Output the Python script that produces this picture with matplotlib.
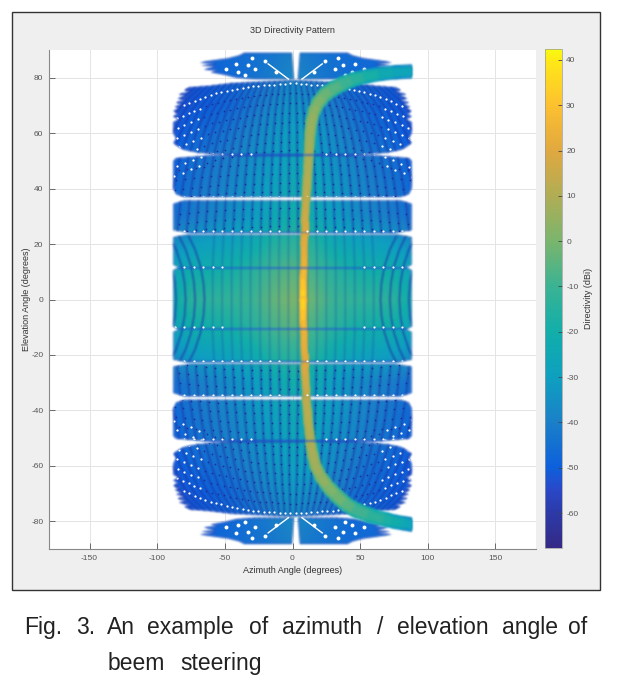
import numpy as np
import matplotlib
matplotlib.use('Agg')
import matplotlib.pyplot as plt
from matplotlib.collections import LineCollection
from matplotlib.colors import LinearSegmentedColormap, Normalize
from matplotlib.patches import PathPatch, Rectangle
from matplotlib.path import Path

plt.rcParams['font.family'] = ['Liberation Sans', 'DejaVu Sans']
plt.rcParams['axes.unicode_minus'] = False

# base level of the pattern (dBi)
table_db = [
    [-47, -47, -47, -46, -45, -43, -41, -43, -45, -46, -47, -47, -47],
    [-51, -51, -49, -47, -44, -41, -37, -41, -44, -47, -47, -49, -49],
    [-53, -51, -49, -46, -42, -37, -32, -36, -40, -44, -47, -50, -52],
    [-52, -48, -45, -42, -38, -33, -29, -30, -36, -41, -45, -48, -52],
    [-50, -45, -42, -39, -35, -31, -26, -28, -34, -38, -42, -45, -50],
    [-48, -43, -40, -37, -33, -28, -24, -26, -31, -36, -40, -43, -48],
    [-45, -41, -38, -35, -31, -25, -20, -23, -30, -35, -38, -41, -45],
    [-36, -31, -29, -27, -23, -16, -13, -15, -23, -27, -29, -31, -36],
    [-28, -21, -20, -18, -14, -8, -5, -8, -14, -18, -20, -21, -28],
    [-22, -14, -13, -12, -10, -4, 0, -3, -10, -12, -13, -14, -22],
    [-28, -21, -20, -18, -14, -8, -5, -8, -14, -18, -20, -21, -28],
    [-36, -31, -29, -27, -23, -16, -13, -15, -23, -27, -29, -31, -36],
    [-45, -41, -38, -35, -31, -25, -20, -23, -30, -35, -38, -41, -45],
    [-48, -43, -40, -37, -33, -28, -24, -26, -31, -36, -40, -43, -48],
    [-50, -45, -42, -39, -35, -31, -26, -28, -34, -38, -42, -45, -50],
    [-52, -48, -45, -42, -38, -33, -29, -30, -36, -41, -45, -48, -52],
    [-53, -51, -49, -46, -42, -37, -32, -36, -40, -44, -47, -50, -52],
    [-51, -51, -49, -47, -44, -41, -37, -41, -44, -47, -47, -49, -49],
    [-47, -47, -47, -46, -45, -43, -41, -43, -45, -46, -47, -47, -47],
]

# main beam ridge, upper and lower branch
ridge_el_up = [0, 4, 8, 12, 16, 20, 24, 28, 32, 36, 40, 44, 48, 52, 56, 60, 64, 68, 71, 74, 76, 78, 79.5, 80.5, 81.5, 82, 82.3]
ridge_az_up = [8, 8, 8, 8.5, 8.5, 8.5, 9, 9, 9.5, 10, 10.5, 11, 11.5, 12, 12.5, 13, 14, 16, 19, 24, 30, 38, 46, 55, 66, 77, 89]
ridge_db_up = [36, 34, 30, 25, 23, 22, 20, 18, 16, 14, 13, 11, 10, 9, 8, 7, 6, 4, 2, -1, -4, -8, -12, -16, -21, -25, -28]
ridge_w_up = [6, 6, 6, 6, 6, 6, 7, 7, 7, 7, 8, 8, 8, 9, 9, 10, 10, 11, 12, 13, 13, 13, 12, 12, 12, 12, 12]
ridge_el_dn = [0, -4, -8, -12, -16, -20, -24, -28, -32, -36, -40, -44, -48, -52, -56, -60, -64, -68, -71, -74, -76, -78, -79.5, -80.2, -80.7, -81, -81.3]
ridge_az_dn = [8, 8, 8, 8.5, 8.5, 9, 9, 9.5, 10, 10, 11, 11.5, 12.5, 13.5, 15, 17, 21, 27, 33, 40, 47, 58, 70, 76, 82, 86, 89]
ridge_db_dn = [36, 34, 30, 25, 23, 22, 20, 18, 16, 14, 13, 12, 11, 10, 9, 8, 6, 3, 0, -3, -7, -11, -16, -19, -22, -25, -28]
ridge_w_dn = [6, 6, 6, 6, 6, 6, 7, 7, 7, 7, 8, 8, 8, 9, 10, 10, 11, 12, 13, 13, 13, 13, 12, 12, 12, 12, 12]

# outline of the blocks, left edge, right side is the mirror
lobe_el = [89, 88, 87, 86.2, 85.5, 85, 84.5, 84, 83, 82.5, 82, 81, 80, 79.5]
lobe_az = [-38, -42, -50, -62, -71, -60, -70, -60, -68, -58, -63, -52, -44, -30]
lobe_slit_el = [79.5, 89]
lobe_slit_az = [-1.5, -3]
blockb_el = [79, 78.5, 78, 77, 76.5, 75.5, 75, 74, 73.5, 72.5, 72, 71, 70.5, 69.5, 69, 68, 67, 66, 65, 64, 62, 60, 58, 56.5, 55, 54, 53, 52]
blockb_az = [-4, -25, -45, -62, -76, -80, -76, -84, -79, -85, -80, -86, -82, -87, -84, -88, -85, -88, -84, -88, -88, -88, -86, -88, -84, -80, -70, -45]
blockc_el = [52, 51, 50, 48, 46, 44, 42, 40, 38, 37]
blockc_az = [-60, -86, -88, -88, -88, -88, -88, -88, -86, -80]
blockd_el = [35.7, 34.5, 33, 31, 29, 27, 25, 24]
blockd_az = [-80, -88, -88, -88, -88, -88, -88, -75]
blocke_el = [23.4, 22.5, 15, 12.5, 11.6, 10.6, 6, 0, -6, -9.8, -10.8, -11.7, -14.2, -21.7, -22.6]
blocke_az = [-78, -88, -88, -88, -84, -88, -88, -88, -88, -88, -84, -88, -88, -88, -78]

# dark bands across the pattern
band_el = [52, 36.2, 24, 11.3, -10.5, -22.7, -35, -51]
# how far in from the centre the white specks on each band start
band_white_from = [25, 6, 6, 48, 48, 6, 6, 25]

# nulls of the fan of lobes, azimuth at the horizon
null_az = [-143, -136, -129, -122, -115, -108, -101, -94, -87, -80, -73, -66, -59, -52, -45, -38, -31, -24, -17, -10, -3,
           4, 11, 18, 25, 32, 39, 46, 53, 60, 67, 74, 81, 88, 95, 102, 109, 116, 123, 130, 137, 144]
fan_el = [0, 12, 24, 36, 44, 52, 56, 60, 64, 68, 72, 76, 79]
fan_shrink = [1, 1, 0.98, 0.95, 0.92, 0.88, 0.85, 0.82, 0.78, 0.74, 0.68, 0.6, 0.54]
# curved nulls around the two side points at the horizon
edge_az = [-86, -79, -72, -65, 65, 72, 79, 86]
edge_el = [0, 6, 12, 18, 23]
edge_off = [0, 0.8, 3, 7, 12]

# rings of small holes
ring_el = [78, 74.5, 71, 67.5, 64, 60.5, 57, 54, 49, 45.5, 42, 39, 33, 29.5, 26.5]
dome_az = [0, 30, 60, 90]
dome_drop = [0, 1, 4, 10]
hole_az_up = [-32, -44, -22, -51, -35, -42, -29.5, -37, -14, 32, 44, 22, 51, 35, 42, 29.5, 37, 14]
hole_el_up = [87, 85, 86, 83, 84.5, 82, 83, 81, 82, 87, 85, 86, 83, 84.5, 82, 83, 81, 82]

# colours
cbar_db = [-67.7, -60, -55, -50, -40, -30, -20, -10, 0, 10, 20, 30, 40, 42.4]
cbar_col = ['#352a87', '#2c3aa8', '#2a48c8', '#0d60dc', '#1a80c8', '#0ea0c0', '#12aeaa', '#3ab394',
            '#7ab56d', '#b0ad55', '#e0a840', '#fcc030', '#ffe817', '#f8fa10']
az_ticks = [-150, -100, -50, 0, 50, 100, 150]
el_ticks = [-80, -60, -40, -20, 0, 20, 40, 60, 80]
cb_ticks = [-60, -50, -40, -30, -20, -10, 0, 10, 20, 30, 40]


def blur(img, dpi):
    # small gaussian so the pattern looks as soft as the scan, rgb weighted by alpha
    pad = 3
    k = np.array([0.06, 0.24, 0.4, 0.24, 0.06])
    src = np.pad(img, ((pad, pad), (pad, pad), (0, 0)))
    src[..., :3] *= src[..., 3:]
    for axis in (0, 1):
        src = np.apply_along_axis(lambda m: np.convolve(m, k, mode='same'), axis, src)
    a = src[..., 3:]
    src[..., :3] = np.divide(src[..., :3], a, out=np.zeros_like(src[..., :3]), where=a > 1e-4)
    return np.clip(src, 0, 1), -pad, -pad


fig = plt.figure(figsize=(6.19, 6.81), dpi=100)
W, H = 619.0, 681.0

panel = Rectangle((12 / W, 1 - 590 / H), 588 / W, 578 / H, transform=fig.transFigure,
                  facecolor='#efefef', edgecolor='#333333', linewidth=1.0, zorder=-1)
fig.add_artist(panel)

ax = fig.add_axes([49 / W, 1 - 549 / H, 487 / W, 499 / H])
ax.set_xlim(-180, 180)
ax.set_ylim(-90, 90)
ax.set_facecolor('white')
ax.grid(True, color='#e4e4e4', linewidth=0.7)
ax.set_axisbelow(True)
ax.set_xticks(az_ticks)
ax.set_yticks(el_ticks)
ax.tick_params(direction='in', length=4, width=0.6, color='#555555', labelcolor='#555555', labelsize=6, pad=4)
for side in ['top', 'right']:
    ax.spines[side].set_visible(False)
for side in ['left', 'bottom']:
    ax.spines[side].set_color('#888888')
ax.set_title('3D Directivity Pattern', fontsize=6.5, color='#333333', y=1.0, pad=12)
ax.set_xlabel('Azimuth Angle (degrees)', fontsize=6.5, color='#333333', labelpad=3)
ax.set_ylabel('Elevation Angle (degrees)', fontsize=6.5, color='#333333', labelpad=0)

cmap = LinearSegmentedColormap.from_list(
    'scan', [((d - cbar_db[0]) / (cbar_db[-1] - cbar_db[0]), c) for d, c in zip(cbar_db, cbar_col)], N=256)
norm = Normalize(cbar_db[0], cbar_db[-1])

# clip path made of all the blocks
polys = []


def add_block(el, az, flip=False):
    el = np.array(el, dtype=float)
    az = np.array(az, dtype=float)
    if flip:
        el = -el + 0.8
    left = np.column_stack([az, el])
    right = np.column_stack([-az, el])[::-1]
    poly = np.vstack([left, right, left[:1]])
    if flip:
        poly = poly[::-1]  # keep the same winding or the overlaps cancel
    polys.append(poly)


for e, a in [(blockb_el, blockb_az), (blockc_el, blockc_az), (blockd_el, blockd_az)]:
    add_block(e, a)
    add_block(e, a, flip=True)
add_block(blocke_el, blocke_az)

# the two lobes on top and bottom have a slit at the middle
for flip in (False, True):
    for sign in (1, -1):
        el = np.array(lobe_el + lobe_slit_el, dtype=float)
        az = np.array(lobe_az + lobe_slit_az, dtype=float) * sign + 2.5
        if flip:
            el = -el + 0.8
        poly = np.column_stack([az, el])
        polys.append(np.vstack([poly, poly[:1]]))

shape = Path.make_compound_path(*[Path(p, closed=False) for p in polys])
mask = PathPatch(shape, transform=ax.transData, facecolor='none', edgecolor='none')

im = ax.imshow(np.array(table_db, dtype=float), cmap=cmap, norm=norm, interpolation='bilinear', aspect='auto',
               extent=[-97.5, 97.5, -95, 95], zorder=2)
im.set_clip_path(mask)
im.set_agg_filter(blur)
ax.set_xlim(-180, 180)
ax.set_ylim(-90, 90)

# darker rim around the blocks
rim = PathPatch(shape, facecolor='none', edgecolor='#2c3aa8', linewidth=1.0, alpha=0.7, zorder=2.5)
ax.add_patch(rim)
rim.set_clip_path(mask)
rim.set_agg_filter(blur)

# fan of nulls, strong in the upper and lower blocks and faint around the horizon
fan_all = np.array([-x for x in fan_el[::-1][:-1]] + fan_el, dtype=float)
shrink_all = np.array(fan_shrink[::-1][:-1] + fan_shrink)
outer_lines = []
inner_lines = []
for a0 in null_az:
    az_line = a0 * shrink_all
    hi = fan_all >= 24
    lo = fan_all <= -24
    mid = np.abs(fan_all) <= 24
    outer_lines.append(np.column_stack([az_line[hi], fan_all[hi]]))
    outer_lines.append(np.column_stack([az_line[lo], fan_all[lo]]))
    if abs(a0) <= 62:
        inner_lines.append(np.column_stack([az_line[mid], fan_all[mid]]))
for a0 in edge_az:
    s = 1 if a0 > 0 else -1
    off = np.array(edge_off[::-1][:-1] + edge_off)
    el_line = np.array([-x for x in edge_el[::-1][:-1]] + edge_el, dtype=float)
    outer_lines.append(np.column_stack([a0 + s * off, el_line]))
for lines, alpha, lw in [(outer_lines, 0.85, 1.0), (inner_lines, 0.4, 0.9)]:
    nulls = LineCollection(lines, colors='#1a34a8', linewidths=lw, alpha=alpha, zorder=3)
    ax.add_collection(nulls)
    nulls.set_clip_path(mask)
    nulls.set_agg_filter(blur)

# small holes on the rings, below the beam
dark_x, dark_y, white_x, white_y = [], [], [], []
shr_el = np.array(fan_el)
shr_val = np.array(fan_shrink)
for r in ring_el:
    for a0 in null_az:
        az = a0 * np.interp(r, shr_el, shr_val)
        drop = np.interp(abs(az), dome_az, dome_drop) * (1 if r > 52 else 0.25)
        for sgn, shift in ((1, 0), (-1, 0.8)):
            el = sgn * (r - drop) + shift
            if (abs(az) > 66 and r > 52) or r == 78:
                white_x.append(az)
                white_y.append(el)
            else:
                dark_x.append(az)
                dark_y.append(el)
s1 = ax.scatter(dark_x, dark_y, s=1.6, color='#1b2f9c', linewidths=0, zorder=3.5)
s2 = ax.scatter(white_x, white_y, s=2.6, color='white', linewidths=0, zorder=3.5)
s1.set_clip_path(mask)
s2.set_clip_path(mask)

# beam ridge, wide pale layers below and core on top
stop = Rectangle((-180, -90), 268.7, 180, transform=ax.transData)
for el, az, db, wd in [(ridge_el_up, ridge_az_up, ridge_db_up, ridge_w_up),
                       (ridge_el_dn, ridge_az_dn, ridge_db_dn, ridge_w_dn)]:
    pts = np.column_stack([az, el])
    segs = np.stack([pts[:-1], pts[1:]], axis=1)
    db = np.array(db, dtype=float)
    wd = np.array(wd, dtype=float) * 0.72
    for extra, fade, alpha in [(1.2, 13, 0.85), (1.0, 6, 0.95), (0.7, 0, 1.0)]:
        lc = LineCollection(segs, array=(db[:-1] + db[1:]) / 2 - fade, cmap=cmap, norm=norm,
                            linewidths=(wd[:-1] + wd[1:]) / 2 * extra, alpha=alpha, capstyle='round', zorder=4)
        ax.add_collection(lc)
        lc.set_clip_path(stop)
        lc.set_agg_filter(blur)

# dark bands with their white specks
for b, start in zip(band_el, band_white_from):
    ln, = ax.plot([-88, 88], [b, b], color='#1e55d8', linewidth=1.2, alpha=0.75, zorder=5)
    ln.set_clip_path(mask)
    ln.set_agg_filter(blur)
    spots = [a for a in null_az if start <= abs(a) <= 88]
    sp = ax.scatter(spots, [b + 0.6] * len(spots), s=2.5, color='white', linewidths=0, zorder=5.5)
    sp.set_clip_path(mask)

# white holes in the outer lobes
for sgn, shift in ((1, 0), (-1, 0.8)):
    hx = np.array(hole_az_up, dtype=float) + 2
    hy = sgn * np.array(hole_el_up, dtype=float) + shift
    ax.scatter(hx, hy, s=8, marker='o', color='white', linewidths=0, zorder=3.6)
    for side in (-1, 1):
        ax.plot([side * 20 + 2, side * 5 + 2], [sgn * 85 + shift, sgn * 79.5 + shift], color='white', lw=1.0, zorder=3.6)

# colorbar
cax = fig.add_axes([545 / W, 1 - 548 / H, 17 / W, 499 / H])
sm = plt.cm.ScalarMappable(norm=norm, cmap=cmap)
cb = fig.colorbar(sm, cax=cax, ticks=cb_ticks)
cb.ax.tick_params(direction='in', length=3, width=0.6, color='#444444', labelcolor='#555555', labelsize=6, pad=3)
cb.outline.set_edgecolor('#999999')
cb.outline.set_linewidth(0.5)
cb.set_label('Directivity (dBi)', fontsize=6.5, color='#333333', labelpad=4)

# caption, spaced out word by word like the justified column
line1_words = ['Fig.', '3.', 'An', 'example', 'of', 'azimuth', '/', 'elevation', 'angle', 'of']
line1_x = [24, 76, 107, 147, 249, 282, 377, 397, 502, 568]
line2_words = ['beem', 'steering']
line2_x = [108, 180]
for w, x in zip(line1_words, line1_x):
    fig.text(x / W, 1 - 634 / H, w, fontsize=16.5, color='#222222', ha='left', va='baseline')
for w, x in zip(line2_words, line2_x):
    fig.text(x / W, 1 - 670 / H, w, fontsize=16.5, color='#222222', ha='left', va='baseline')

fig.savefig('out.png', dpi=100, facecolor='white')
